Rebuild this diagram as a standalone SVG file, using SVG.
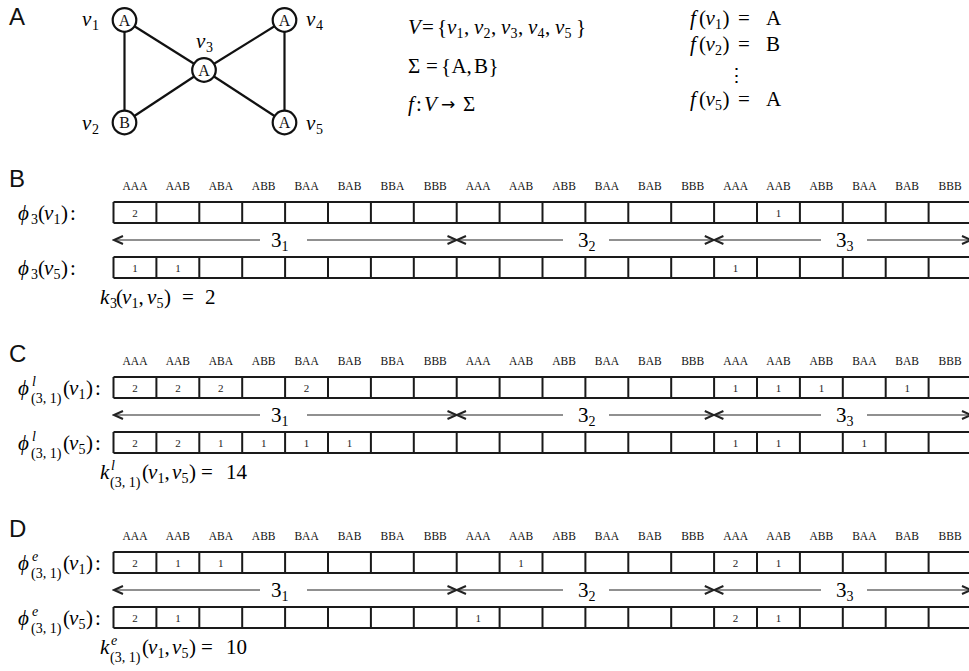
<svg xmlns="http://www.w3.org/2000/svg" width="969" height="671" viewBox="0 0 969 671">
<defs>
<style>
.lbl{font-family:"Liberation Sans",Arial,sans-serif;font-size:24px;fill:#111}
.m{font-family:"Liberation Serif","DejaVu Serif",serif;font-size:21px;fill:#000}
.i{font-style:italic}
.s{font-size:14px}
.hd{font-family:"Liberation Serif",serif;font-size:11.5px;text-anchor:middle;fill:#111}
.num{font-family:"Liberation Serif",serif;font-size:11px;text-anchor:middle;fill:#222}
.nl{font-family:"Liberation Serif",serif;font-size:16px;text-anchor:middle;fill:#111}
.cell{fill:none;stroke:#1a1a1a;stroke-width:2}
.arr{stroke:#222;stroke-width:1.2;fill:none}
.edge{stroke:#111;stroke-width:2.2}
.node circle{fill:#fff;stroke:#111;stroke-width:2.2}
</style>
<marker id="chev" markerUnits="userSpaceOnUse" markerWidth="12" markerHeight="12" refX="10" refY="5" orient="auto-start-reverse">
<path d="M1,1 L10,5 L1,9" fill="none" stroke="#222" stroke-width="2"/>
</marker>
</defs>
<rect width="969" height="671" fill="#fff"/>

<!-- Section A -->
<text class="lbl" x="9" y="25">A</text>
<g id="edges">
<line class="edge" x1="124.5" y1="20" x2="124.5" y2="122.5"/>
<line class="edge" x1="124.5" y1="20" x2="204" y2="70"/>
<line class="edge" x1="124.5" y1="122.5" x2="204" y2="70"/>
<line class="edge" x1="204" y1="70" x2="284.5" y2="20"/>
<line class="edge" x1="204" y1="70" x2="284.5" y2="122.5"/>
<line class="edge" x1="284.5" y1="20" x2="284.5" y2="122.5"/>
</g>
<g id="v1" class="node"><circle cx="124.5" cy="20" r="11.8"/><text class="nl" x="124.5" y="25.5">A</text>
<text class="m"><tspan class="i" x="82" y="26">v</tspan><tspan class="s" x="92" y="30">1</tspan></text></g>
<g id="v2" class="node"><circle cx="124.5" cy="122.5" r="11.8"/><text class="nl" x="124.5" y="128">B</text>
<text class="m"><tspan class="i" x="82" y="130">v</tspan><tspan class="s" x="92" y="134">2</tspan></text></g>
<g id="v3" class="node"><circle cx="204" cy="70" r="11.8"/><text class="nl" x="204" y="75.5">A</text>
<text class="m"><tspan class="i" x="196" y="48">v</tspan><tspan class="s" x="206" y="52">3</tspan></text></g>
<g id="v4" class="node"><circle cx="284.5" cy="20" r="11.8"/><text class="nl" x="284.5" y="25.5">A</text>
<text class="m"><tspan class="i" x="306" y="26">v</tspan><tspan class="s" x="316" y="30">4</tspan></text></g>
<g id="v5" class="node"><circle cx="284.5" cy="122.5" r="11.8"/><text class="nl" x="284.5" y="128">A</text>
<text class="m"><tspan class="i" x="306" y="130">v</tspan><tspan class="s" x="316" y="134">5</tspan></text></g>

<g id="defsA">
<text class="m"><tspan class="i" x="408" y="34">V</tspan><tspan x="422" y="34">=</tspan><tspan x="437" y="34">{</tspan><tspan class="i" x="447" y="34">v</tspan><tspan class="s" x="456.5" y="38">1</tspan><tspan x="464" y="34">,</tspan><tspan class="i" x="474" y="34">v</tspan><tspan class="s" x="483.5" y="38">2</tspan><tspan x="491" y="34">,</tspan><tspan class="i" x="501" y="34">v</tspan><tspan class="s" x="510.5" y="38">3</tspan><tspan x="518" y="34">,</tspan><tspan class="i" x="528" y="34">v</tspan><tspan class="s" x="537.5" y="38">4</tspan><tspan x="545" y="34">,</tspan><tspan class="i" x="555" y="34">v</tspan><tspan class="s" x="564.5" y="38">5</tspan><tspan x="576" y="34">}</tspan></text>
<text class="m"><tspan x="408" y="73">Σ</tspan><tspan x="426" y="73">=</tspan><tspan x="441" y="73">{</tspan><tspan x="451.5" y="73">A</tspan><tspan x="466.5" y="73">,</tspan><tspan x="474" y="73">B</tspan><tspan x="488.5" y="73">}</tspan></text>
<text class="m"><tspan class="i" x="408" y="111">f</tspan><tspan x="416" y="111">:</tspan><tspan class="i" x="424" y="111">V</tspan><tspan x="441" y="110" style="font-family:'DejaVu Sans',sans-serif;font-size:17px">→</tspan><tspan x="463" y="111">Σ</tspan></text>
<text class="m"><tspan class="i" x="690" y="25">f</tspan><tspan x="699" y="25">(</tspan><tspan class="i" x="705.5" y="25">v</tspan><tspan class="s" x="715" y="29">1</tspan><tspan x="722.5" y="25">)</tspan><tspan x="738" y="25">=</tspan><tspan x="766" y="25">A</tspan></text>
<text class="m"><tspan class="i" x="690" y="51">f</tspan><tspan x="699" y="51">(</tspan><tspan class="i" x="705.5" y="51">v</tspan><tspan class="s" x="715" y="55">2</tspan><tspan x="722.5" y="51">)</tspan><tspan x="738" y="51">=</tspan><tspan x="766" y="51">B</tspan></text>
<text class="m" x="736" y="82" text-anchor="middle" style="font-size:19px">⋮</text>
<text class="m"><tspan class="i" x="690" y="106">f</tspan><tspan x="699" y="106">(</tspan><tspan class="i" x="705.5" y="106">v</tspan><tspan class="s" x="715" y="110">5</tspan><tspan x="722.5" y="106">)</tspan><tspan x="738" y="106">=</tspan><tspan x="766" y="106">A</tspan></text>
</g>

<!-- Section B -->
<g id="secB">
<text class="lbl" x="9" y="187">B</text>
<g class="hd">
<text x="135" y="190">AAA</text><text x="177.9" y="190">AAB</text><text x="220.8" y="190">ABA</text><text x="263.7" y="190">ABB</text><text x="306.6" y="190">BAA</text><text x="349.5" y="190">BAB</text><text x="392.4" y="190">BBA</text><text x="435.3" y="190">BBB</text>
<text x="478.2" y="190">AAA</text><text x="521.1" y="190">AAB</text><text x="564" y="190">ABB</text><text x="606.9" y="190">BAA</text><text x="649.8" y="190">BAB</text><text x="692.7" y="190">BBB</text>
<text x="735.6" y="190">AAA</text><text x="778.5" y="190">AAB</text><text x="821.4" y="190">ABB</text><text x="864.3" y="190">BAA</text><text x="907.2" y="190">BAB</text><text x="950.1" y="190">BBB</text>
</g>
<text class="m"><tspan class="i" x="18" y="220">ϕ</tspan><tspan class="s" x="31" y="224">3</tspan><tspan x="38" y="220">(</tspan><tspan class="i" x="44" y="220">v</tspan><tspan class="s" x="53.5" y="224">1</tspan><tspan x="61" y="220">)</tspan><tspan x="70" y="220">:</tspan></text>
<path class="cell" d="M113.5,202H975M113.5,223H975M113.5,202V223M156.4,202V223M199.3,202V223M242.2,202V223M285.1,202V223M328,202V223M370.9,202V223M413.8,202V223M456.7,202V223M499.6,202V223M542.5,202V223M585.4,202V223M628.3,202V223M671.2,202V223M714.1,202V223M757,202V223M799.9,202V223M842.8,202V223M885.7,202V223M928.6,202V223"/>
<g class="num"><text x="135" y="216.5">2</text><text x="778.5" y="216.5">1</text></g>
<g class="arr">
<line x1="114" y1="240" x2="260" y2="240" marker-start="url(#chev)"/>
<line x1="307" y1="240" x2="456.5" y2="240" marker-end="url(#chev)"/>
<line x1="457" y1="240" x2="563" y2="240" marker-start="url(#chev)"/>
<line x1="609" y1="240" x2="713.8" y2="240" marker-end="url(#chev)"/>
<line x1="714.4" y1="240" x2="821" y2="240" marker-start="url(#chev)"/>
<line x1="867" y1="240" x2="971" y2="240" marker-end="url(#chev)"/>
</g>
<text class="m"><tspan x="271" y="247">3</tspan><tspan class="s" x="281.5" y="251">1</tspan></text>
<text class="m"><tspan x="578" y="247">3</tspan><tspan class="s" x="588.5" y="251">2</tspan></text>
<text class="m"><tspan x="836" y="247">3</tspan><tspan class="s" x="846.5" y="251">3</tspan></text>
<text class="m"><tspan class="i" x="18" y="275">ϕ</tspan><tspan class="s" x="31" y="279">3</tspan><tspan x="38" y="275">(</tspan><tspan class="i" x="44" y="275">v</tspan><tspan class="s" x="53.5" y="279">5</tspan><tspan x="61" y="275">)</tspan><tspan x="70" y="275">:</tspan></text>
<path class="cell" d="M113.5,257H975M113.5,278H975M113.5,257V278M156.4,257V278M199.3,257V278M242.2,257V278M285.1,257V278M328,257V278M370.9,257V278M413.8,257V278M456.7,257V278M499.6,257V278M542.5,257V278M585.4,257V278M628.3,257V278M671.2,257V278M714.1,257V278M757,257V278M799.9,257V278M842.8,257V278M885.7,257V278M928.6,257V278"/>
<g class="num"><text x="135" y="271.5">1</text><text x="177.9" y="271.5">1</text><text x="735.6" y="271.5">1</text></g>
<text class="m"><tspan class="i" x="100" y="304">k</tspan><tspan class="s" x="110" y="308">3</tspan><tspan x="116" y="304">(</tspan><tspan class="i" x="122" y="304">v</tspan><tspan class="s" x="131.5" y="308">1</tspan><tspan x="138.5" y="304">,</tspan><tspan class="i" x="147" y="304">v</tspan><tspan class="s" x="156.5" y="308">5</tspan><tspan x="164" y="304">)</tspan><tspan x="182" y="304">=</tspan><tspan x="205" y="304">2</tspan></text>
</g>

<!-- Section C -->
<g id="secC">
<text class="lbl" x="9" y="362">C</text>
<g class="hd">
<text x="135" y="365">AAA</text><text x="177.9" y="365">AAB</text><text x="220.8" y="365">ABA</text><text x="263.7" y="365">ABB</text><text x="306.6" y="365">BAA</text><text x="349.5" y="365">BAB</text><text x="392.4" y="365">BBA</text><text x="435.3" y="365">BBB</text>
<text x="478.2" y="365">AAA</text><text x="521.1" y="365">AAB</text><text x="564" y="365">ABB</text><text x="606.9" y="365">BAA</text><text x="649.8" y="365">BAB</text><text x="692.7" y="365">BBB</text>
<text x="735.6" y="365">AAA</text><text x="778.5" y="365">AAB</text><text x="821.4" y="365">ABB</text><text x="864.3" y="365">BAA</text><text x="907.2" y="365">BAB</text><text x="950.1" y="365">BBB</text>
</g>
<text class="m"><tspan class="i" x="18" y="395">ϕ</tspan><tspan class="s i" x="32" y="386">l</tspan><tspan class="s" x="31" y="403">(3, 1)</tspan><tspan x="63" y="395">(</tspan><tspan class="i" x="69" y="395">v</tspan><tspan class="s" x="78.5" y="399">1</tspan><tspan x="86" y="395">)</tspan><tspan x="95" y="395">:</tspan></text>
<path class="cell" d="M113.5,377H975M113.5,398H975M113.5,377V398M156.4,377V398M199.3,377V398M242.2,377V398M285.1,377V398M328,377V398M370.9,377V398M413.8,377V398M456.7,377V398M499.6,377V398M542.5,377V398M585.4,377V398M628.3,377V398M671.2,377V398M714.1,377V398M757,377V398M799.9,377V398M842.8,377V398M885.7,377V398M928.6,377V398"/>
<g class="num"><text x="135" y="391.5">2</text><text x="177.9" y="391.5">2</text><text x="220.8" y="391.5">2</text><text x="306.6" y="391.5">2</text><text x="735.6" y="391.5">1</text><text x="778.5" y="391.5">1</text><text x="821.4" y="391.5">1</text><text x="907.2" y="391.5">1</text></g>
<g class="arr">
<line x1="114" y1="415" x2="260" y2="415" marker-start="url(#chev)"/>
<line x1="307" y1="415" x2="456.5" y2="415" marker-end="url(#chev)"/>
<line x1="457" y1="415" x2="563" y2="415" marker-start="url(#chev)"/>
<line x1="609" y1="415" x2="713.8" y2="415" marker-end="url(#chev)"/>
<line x1="714.4" y1="415" x2="821" y2="415" marker-start="url(#chev)"/>
<line x1="867" y1="415" x2="971" y2="415" marker-end="url(#chev)"/>
</g>
<text class="m"><tspan x="271" y="422">3</tspan><tspan class="s" x="281.5" y="426">1</tspan></text>
<text class="m"><tspan x="578" y="422">3</tspan><tspan class="s" x="588.5" y="426">2</tspan></text>
<text class="m"><tspan x="836" y="422">3</tspan><tspan class="s" x="846.5" y="426">3</tspan></text>
<text class="m"><tspan class="i" x="18" y="450">ϕ</tspan><tspan class="s i" x="32" y="441">l</tspan><tspan class="s" x="31" y="458">(3, 1)</tspan><tspan x="63" y="450">(</tspan><tspan class="i" x="69" y="450">v</tspan><tspan class="s" x="78.5" y="454">5</tspan><tspan x="86" y="450">)</tspan><tspan x="95" y="450">:</tspan></text>
<path class="cell" d="M113.5,432H975M113.5,453H975M113.5,432V453M156.4,432V453M199.3,432V453M242.2,432V453M285.1,432V453M328,432V453M370.9,432V453M413.8,432V453M456.7,432V453M499.6,432V453M542.5,432V453M585.4,432V453M628.3,432V453M671.2,432V453M714.1,432V453M757,432V453M799.9,432V453M842.8,432V453M885.7,432V453M928.6,432V453"/>
<g class="num"><text x="135" y="446.5">2</text><text x="177.9" y="446.5">2</text><text x="220.8" y="446.5">1</text><text x="263.7" y="446.5">1</text><text x="306.6" y="446.5">1</text><text x="349.5" y="446.5">1</text><text x="735.6" y="446.5">1</text><text x="778.5" y="446.5">1</text><text x="864.3" y="446.5">1</text></g>
<text class="m"><tspan class="i" x="100" y="479">k</tspan><tspan class="s i" x="111" y="470">l</tspan><tspan class="s" x="110" y="487">(3, 1)</tspan><tspan x="142" y="479">(</tspan><tspan class="i" x="148" y="479">v</tspan><tspan class="s" x="157.5" y="483">1</tspan><tspan x="164.5" y="479">,</tspan><tspan class="i" x="172" y="479">v</tspan><tspan class="s" x="181.5" y="483">5</tspan><tspan x="189" y="479">)</tspan><tspan x="201" y="479">=</tspan><tspan x="226" y="479">14</tspan></text>
</g>

<!-- Section D -->
<g id="secD">
<text class="lbl" x="9" y="537">D</text>
<g class="hd">
<text x="135" y="540">AAA</text><text x="177.9" y="540">AAB</text><text x="220.8" y="540">ABA</text><text x="263.7" y="540">ABB</text><text x="306.6" y="540">BAA</text><text x="349.5" y="540">BAB</text><text x="392.4" y="540">BBA</text><text x="435.3" y="540">BBB</text>
<text x="478.2" y="540">AAA</text><text x="521.1" y="540">AAB</text><text x="564" y="540">ABB</text><text x="606.9" y="540">BAA</text><text x="649.8" y="540">BAB</text><text x="692.7" y="540">BBB</text>
<text x="735.6" y="540">AAA</text><text x="778.5" y="540">AAB</text><text x="821.4" y="540">ABB</text><text x="864.3" y="540">BAA</text><text x="907.2" y="540">BAB</text><text x="950.1" y="540">BBB</text>
</g>
<text class="m"><tspan class="i" x="18" y="570">ϕ</tspan><tspan class="s i" x="32" y="561">e</tspan><tspan class="s" x="31" y="578">(3, 1)</tspan><tspan x="63" y="570">(</tspan><tspan class="i" x="69" y="570">v</tspan><tspan class="s" x="78.5" y="574">1</tspan><tspan x="86" y="570">)</tspan><tspan x="95" y="570">:</tspan></text>
<path class="cell" d="M113.5,552H975M113.5,573H975M113.5,552V573M156.4,552V573M199.3,552V573M242.2,552V573M285.1,552V573M328,552V573M370.9,552V573M413.8,552V573M456.7,552V573M499.6,552V573M542.5,552V573M585.4,552V573M628.3,552V573M671.2,552V573M714.1,552V573M757,552V573M799.9,552V573M842.8,552V573M885.7,552V573M928.6,552V573"/>
<g class="num"><text x="135" y="566.5">2</text><text x="177.9" y="566.5">1</text><text x="220.8" y="566.5">1</text><text x="521.1" y="566.5">1</text><text x="735.6" y="566.5">2</text><text x="778.5" y="566.5">1</text></g>
<g class="arr">
<line x1="114" y1="590" x2="260" y2="590" marker-start="url(#chev)"/>
<line x1="307" y1="590" x2="456.5" y2="590" marker-end="url(#chev)"/>
<line x1="457" y1="590" x2="563" y2="590" marker-start="url(#chev)"/>
<line x1="609" y1="590" x2="713.8" y2="590" marker-end="url(#chev)"/>
<line x1="714.4" y1="590" x2="821" y2="590" marker-start="url(#chev)"/>
<line x1="867" y1="590" x2="971" y2="590" marker-end="url(#chev)"/>
</g>
<text class="m"><tspan x="271" y="597">3</tspan><tspan class="s" x="281.5" y="601">1</tspan></text>
<text class="m"><tspan x="578" y="597">3</tspan><tspan class="s" x="588.5" y="601">2</tspan></text>
<text class="m"><tspan x="836" y="597">3</tspan><tspan class="s" x="846.5" y="601">3</tspan></text>
<text class="m"><tspan class="i" x="18" y="625">ϕ</tspan><tspan class="s i" x="32" y="616">e</tspan><tspan class="s" x="31" y="633">(3, 1)</tspan><tspan x="63" y="625">(</tspan><tspan class="i" x="69" y="625">v</tspan><tspan class="s" x="78.5" y="629">5</tspan><tspan x="86" y="625">)</tspan><tspan x="95" y="625">:</tspan></text>
<path class="cell" d="M113.5,607H975M113.5,628H975M113.5,607V628M156.4,607V628M199.3,607V628M242.2,607V628M285.1,607V628M328,607V628M370.9,607V628M413.8,607V628M456.7,607V628M499.6,607V628M542.5,607V628M585.4,607V628M628.3,607V628M671.2,607V628M714.1,607V628M757,607V628M799.9,607V628M842.8,607V628M885.7,607V628M928.6,607V628"/>
<g class="num"><text x="135" y="621.5">2</text><text x="177.9" y="621.5">1</text><text x="478.2" y="621.5">1</text><text x="735.6" y="621.5">2</text><text x="778.5" y="621.5">1</text></g>
<text class="m"><tspan class="i" x="100" y="654">k</tspan><tspan class="s i" x="111" y="645">e</tspan><tspan class="s" x="110" y="662">(3, 1)</tspan><tspan x="142" y="654">(</tspan><tspan class="i" x="148" y="654">v</tspan><tspan class="s" x="157.5" y="658">1</tspan><tspan x="164.5" y="654">,</tspan><tspan class="i" x="172" y="654">v</tspan><tspan class="s" x="181.5" y="658">5</tspan><tspan x="189" y="654">)</tspan><tspan x="201" y="654">=</tspan><tspan x="226" y="654">10</tspan></text>
</g>
</svg>
